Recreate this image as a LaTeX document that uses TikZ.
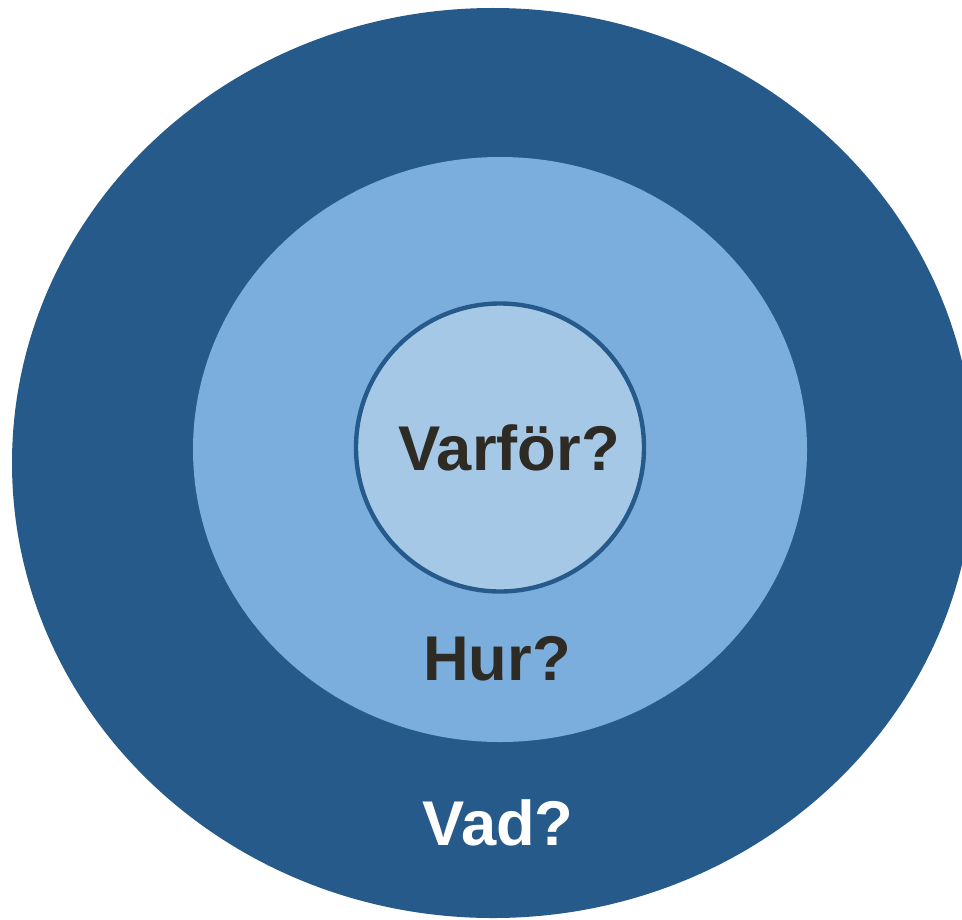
\documentclass[tikz,border=0pt]{standalone}
\usepackage{fontspec}
\setmainfont{Liberation Sans}
\usepackage{xcolor}
\usepackage{tikz}
\usetikzlibrary{positioning}

\definecolor{outerblue}{RGB}{37,90,138}
\definecolor{midblue}{RGB}{123,174,220}
\definecolor{innerblue}{RGB}{165,200,230}
\definecolor{textdark}{RGB}{46,42,36}

\begin{document}
\begin{tikzpicture}[x=0.02cm, y=-0.02cm,
    label/.style={anchor=base, inner sep=0pt, font=\bfseries\fontsize{36}{43}\selectfont}]
    \useasboundingbox (0,0) rectangle (962,919);
    \clip (0,0) rectangle (962,919);
    % Outer ring
    \fill[outerblue] (493,463) ellipse (481 and 455);
    % Middle ring
    \fill[midblue] (500,449.5) ellipse (307 and 292.5);
    % Inner circle
    \filldraw[fill=innerblue, draw=outerblue, line width=2.5pt] (500,447.5) circle (144);

    % Labels
    \node[label, textdark] (why) at (509,470) {Varför?};
    \node[label, textdark] (how) at (497,680) {Hur?};
    \node[label, white] (what) at (498,845) {Vad?};
\end{tikzpicture}
\end{document}
